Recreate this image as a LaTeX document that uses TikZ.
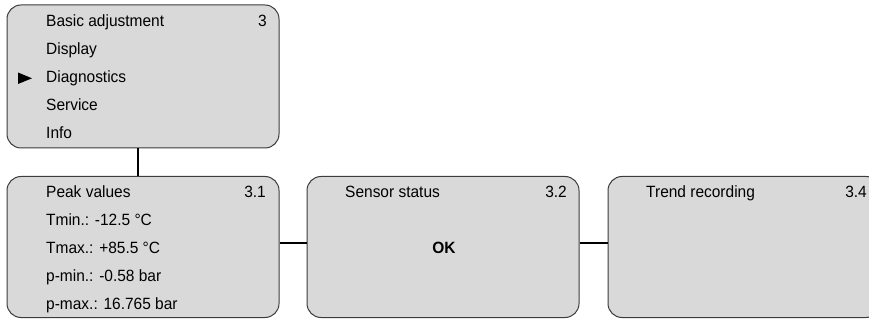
\documentclass[tikz,border=0pt]{standalone}
\usepackage{fontspec}
\setmainfont[FakeStretch=0.95]{Liberation Sans}
\definecolor{boxfill}{RGB}{217,217,217}
\definecolor{boxline}{RGB}{60,60,60}
\tikzset{
  menubox/.style={draw=boxline, fill=boxfill, line width=1pt, rounded corners=14pt,
    minimum width=272pt, minimum height=141pt, inner sep=0pt},
  entry/.style={anchor=base west, inner sep=0pt, font=\fontsize{16.3}{18}\selectfont},
  number/.style={anchor=base east, inner sep=0pt, font=\fontsize{16.3}{18}\selectfont},
  link/.style={line width=1.6pt}
}
\begin{document}
\begin{tikzpicture}[x=1pt,y=-1pt]
    \useasboundingbox (0,0) rectangle (869,320);
    % Menu boxes
    \node[menubox, minimum height=143pt] (main) at (143,76.5) {};
    \node[menubox] (peak) at (143,247) {};
    \node[menubox] (status) at (443,247) {};
    \node[menubox] (trend) at (744,247) {};

    % Connectors
    \draw[link] ([xshift=-5pt]main.south) -- ([xshift=-5pt]peak.north);
    \draw[link] ([yshift=4pt]peak.east) -- ([yshift=4pt]status.west);
    \draw[link] ([yshift=4pt]status.east) -- ([yshift=4pt]trend.west);

    % Main menu
    \node[entry] (m1) at (46,27) {Basic adjustment};
    \node[number] (mnum) at (267,27) {3};
    \node[entry] (m2) at (46,55) {Display};
    \node[entry] (m3) at (46,83) {Diagnostics};
    \node[entry] (m4) at (46,111) {Service};
    \node[entry] (m5) at (46,139) {Info};
    \fill (18,72.5) -- (32,78.3) -- (18,84) -- cycle; % cursor

    % Peak values
    \node[entry] (p1) at (46,198) {Peak values};
    \node[number] (pnum) at (266,198) {3.1};
    \node[entry] (p2) at (46,225.5) {Tmin.: -12.5 °C};
    \node[entry] (p3) at (46,253) {Tmax.: +85.5 °C};
    \node[entry] (p4) at (46,281) {p-min.: -0.58 bar};
    \node[entry] (p5) at (46,309) {p-max.: 16.765 bar};

    % Sensor status
    \node[entry] (s1) at (345,198) {Sensor status};
    \node[number] (snum) at (567,198) {3.2};
    \node[anchor=base, inner sep=0pt, font=\fontsize{16.3}{18}\selectfont\bfseries] (ok) at (444,254) {OK};

    % Trend recording
    \node[entry] (t1) at (646,198) {Trend recording};
    \node[number] (tnum) at (867,198) {3.4};
\end{tikzpicture}
\end{document}
